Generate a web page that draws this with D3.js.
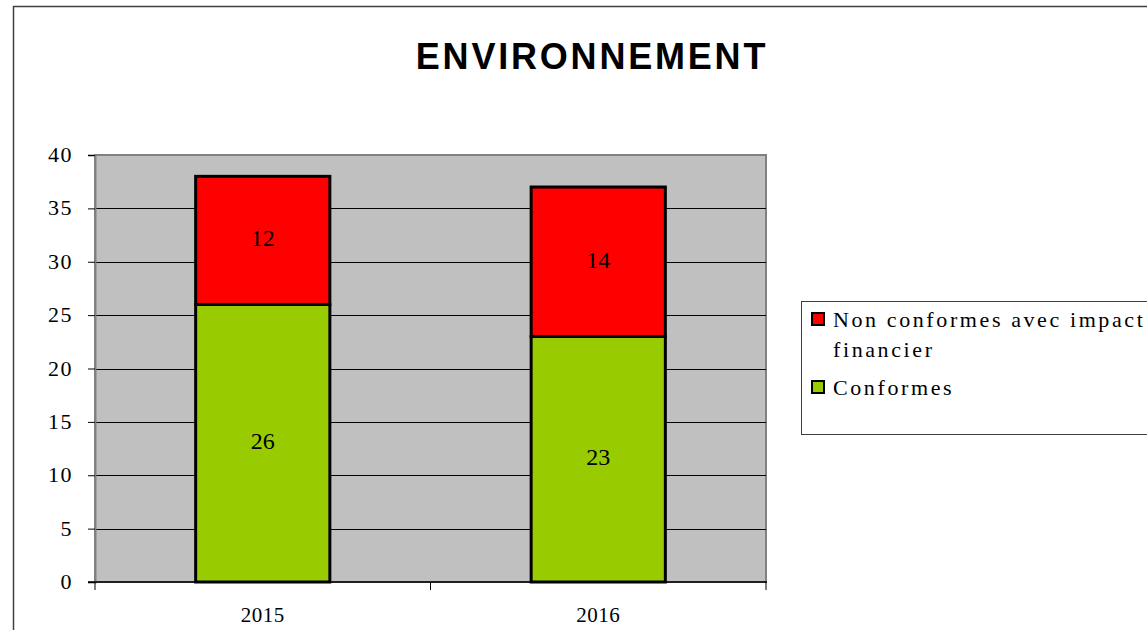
<!DOCTYPE html>
<html>
<head>
<meta charset="utf-8">
<script src="https://cdn.jsdelivr.net/npm/d3@7"></script>
<style>
body { margin: 0; background: #fff; }
svg text { font-family: "Liberation Serif", "Times New Roman", serif; fill: #000; }
</style>
</head>
<body>
<div id="chart"></div>
<script>
// data
var years = ['2015', '2016'];
var conformes = [26, 23];
var nonConformes = [12, 14];
var seriesNames = ['Conformes', 'Non conformes avec impact financier'];
var seriesColors = ['#99cc00', '#ff0000'];
var yTicks = [0, 5, 10, 15, 20, 25, 30, 35, 40];

var W = 1147, H = 630;
var plot = { left: 95, top: 155, right: 766, bottom: 582 };

var rows = years.map(function(y, i) {
	return { year: y, Conformes: conformes[i], NonConformes: nonConformes[i] };
});

var svg = d3.select('#chart').append('svg')
	.attr('width', W)
	.attr('height', H);

// outer chart border
svg.append('rect')
	.attr('x', 13.5).attr('y', 6.5)
	.attr('width', 1200).attr('height', 700)
	.attr('fill', '#fff')
	.attr('stroke', '#404040')
	.attr('stroke-width', 1.5);

// title
svg.append('text')
	.attr('x', 592).attr('y', 69)
	.attr('text-anchor', 'middle')
	.style('font-family', '"Liberation Sans", Arial, sans-serif')
	.style('font-weight', 'bold')
	.style('font-size', '36px')
	.style('letter-spacing', '2.8px')
	.text('ENVIRONNEMENT');

var x = d3.scaleBand()
	.domain(years)
	.range([plot.left, plot.right])
	.paddingInner(0.6)
	.paddingOuter(0.3);

var y = d3.scaleLinear()
	.domain([0, 40])
	.range([plot.bottom, plot.top]);

// plot background
svg.append('rect')
	.attr('x', plot.left).attr('y', plot.top)
	.attr('width', plot.right - plot.left)
	.attr('height', plot.bottom - plot.top)
	.attr('fill', '#c0c0c0')
	.attr('stroke', '#808080')
	.attr('stroke-width', 2);

// gridlines
svg.append('g').selectAll('line')
	.data(yTicks.slice(1, -1))
	.enter().append('line')
		.attr('x1', plot.left).attr('x2', plot.right)
		.attr('y1', function(d) { return Math.round(y(d)) + 0.5; })
		.attr('y2', function(d) { return Math.round(y(d)) + 0.5; })
		.attr('stroke', '#000')
		.attr('stroke-width', 1);

// stacked bars
var stack = d3.stack().keys(['Conformes', 'NonConformes']);
var layers = stack(rows);

var layerG = svg.append('g').selectAll('g')
	.data(layers)
	.enter().append('g')
		.attr('fill', function(d, i) { return seriesColors[i]; });

layerG.selectAll('rect')
	.data(function(d) { return d; })
	.enter().append('rect')
		.attr('x', function(d) { return x(d.data.year); })
		.attr('y', function(d) { return y(d[1]); })
		.attr('width', x.bandwidth())
		.attr('height', function(d) { return y(d[0]) - y(d[1]); })
		.attr('stroke', '#000')
		.attr('stroke-width', 3);

// value labels
layerG.selectAll('text')
	.data(function(d) { return d; })
	.enter().append('text')
		.attr('x', function(d) { return x(d.data.year) + x.bandwidth() / 2; })
		.attr('y', function(d) { return (y(d[0]) + y(d[1])) / 2 + 6; })
		.attr('text-anchor', 'middle')
		.style('font-size', '24px')
		.text(function(d) { return d[1] - d[0]; });

// y axis
var yAxis = d3.axisLeft(y).tickValues(yTicks).tickSize(7).tickPadding(15);
var yG = svg.append('g')
	.attr('transform', 'translate(' + plot.left + ',0)')
	.call(yAxis);
yG.select('.domain').attr('stroke', '#808080').attr('stroke-width', 2);
yG.selectAll('.tick line').attr('stroke', '#000');
yG.selectAll('.tick text')
	.style('font-size', '22px')
	.style('letter-spacing', '1.5px')
	.attr('font-family', null)
	.attr('dy', '0.3em');

// x axis
var xAxis = d3.axisBottom(x).tickSize(0).tickPadding(25);
var xG = svg.append('g')
	.attr('transform', 'translate(0,' + plot.bottom + ')')
	.call(xAxis);
xG.select('.domain').remove();
xG.selectAll('.tick text')
	.style('font-size', '21px')
	.style('letter-spacing', '0.5px')
	.attr('font-family', null);

svg.append('line')
	.attr('x1', plot.left - 7).attr('x2', plot.right + 1)
	.attr('y1', plot.bottom).attr('y2', plot.bottom)
	.attr('stroke', '#000').attr('stroke-width', 1.5);

svg.append('g').selectAll('line')
	.data(d3.range(years.length + 1))
	.enter().append('line')
		.attr('x1', function(d) { return plot.left + d * (plot.right - plot.left) / years.length; })
		.attr('x2', function(d) { return plot.left + d * (plot.right - plot.left) / years.length; })
		.attr('y1', plot.bottom).attr('y2', plot.bottom + 8)
		.attr('stroke', '#000');

// legend
var legend = svg.append('g');
legend.append('rect')
	.attr('x', 801.5).attr('y', 301.5)
	.attr('width', 400).attr('height', 133)
	.attr('fill', '#fff')
	.attr('stroke', '#404040');

var legendItems = [
	{ color: seriesColors[1], lines: ['Non conformes avec impact', 'financier'], y: 313 },
	{ color: seriesColors[0], lines: ['Conformes'], y: 381 }
];

legendItems.forEach(function(item) {
	legend.append('rect')
		.attr('x', 812).attr('y', item.y)
		.attr('width', 12).attr('height', 12)
		.attr('fill', item.color)
		.attr('stroke', '#000')
		.attr('stroke-width', 2);
	item.lines.forEach(function(line, j) {
		legend.append('text')
			.attr('x', 833)
			.attr('y', item.y + 14 + j * 29.5)
			.style('font-size', '22px')
			.style('letter-spacing', '2.6px')
			.text(line);
	});
});
</script>
</body>
</html>
